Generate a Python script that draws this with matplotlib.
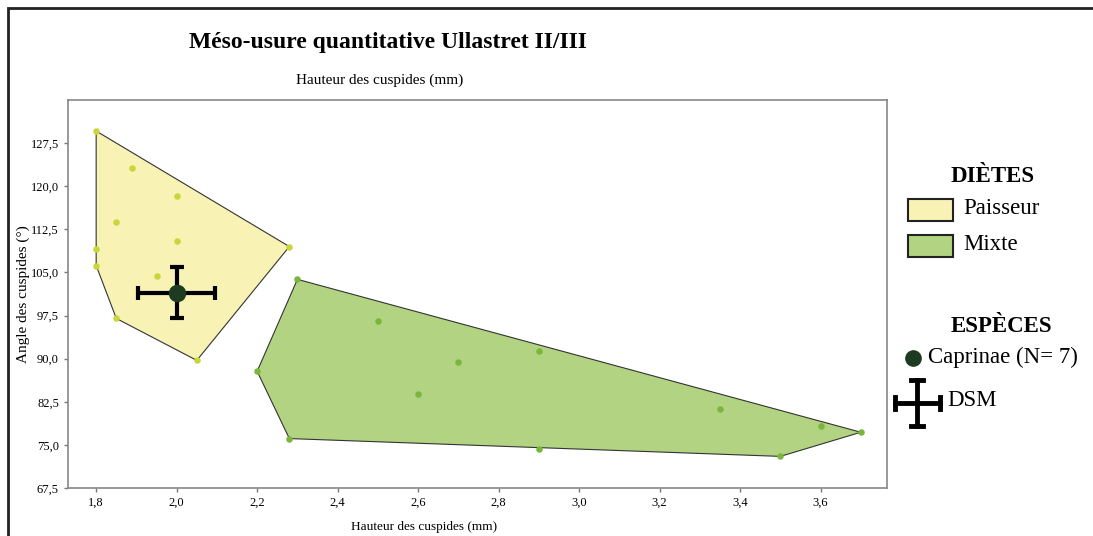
import matplotlib.pyplot as plt
from matplotlib.patches import Polygon, Rectangle
from matplotlib.lines import Line2D

plt.rcParams['font.family'] = ['Liberation Serif', 'DejaVu Serif']

# Paisseur (grazer) points
pais_x = [1.80, 1.89, 2.00, 1.85, 2.00, 1.80, 1.80, 1.95, 1.85, 2.05, 2.28]
pais_y = [129.6, 123.1, 118.3, 113.7, 110.4, 109.0, 106.2, 104.3, 97.0, 89.7, 109.5]
pais_hull_x = [1.80, 2.28, 2.05, 1.85, 1.80, 1.80]
pais_hull_y = [129.6, 109.5, 89.7, 97.0, 106.2, 109.0]

# Mixte points
mix_x = [2.30, 2.50, 2.70, 2.90, 2.60, 2.20, 2.28, 2.90, 3.35, 3.50, 3.60, 3.70]
mix_y = [103.8, 96.5, 89.5, 91.4, 83.8, 87.8, 76.1, 74.2, 81.2, 73.0, 78.2, 77.2]
mix_hull_x = [2.30, 3.70, 3.50, 2.28, 2.20]
mix_hull_y = [103.8, 77.2, 73.0, 76.1, 87.8]

# Caprinae mean and DSM
cap_x, cap_y = 2.00, 101.5
cap_sdx, cap_sdy = 0.095, 4.4

xticks = [1.8, 2.0, 2.2, 2.4, 2.6, 2.8, 3.0, 3.2, 3.4, 3.6]
xlabels = ["1,8", "2,0", "2,2", "2,4", "2,6", "2,8", "3,0", "3,2", "3,4", "3,6"]
yticks = [67.5, 75.0, 82.5, 90.0, 97.5, 105.0, 112.5, 120.0, 127.5]
ylabels = ["67,5", "75,0", "82,5", "90,0", "97,5", "105,0", "112,5", "120,0", "127,5"]

W, H = 1093, 536
fig = plt.figure(figsize=(W / 100, H / 100), dpi=100)
fig.patch.set_facecolor("white")

# outer frame
fig.patches.append(Rectangle((8 / W, -0.05), 1.1, 1 - 8 / H + 0.05, transform=fig.transFigure,
                             fill=False, edgecolor="#222222", lw=2))

ax = fig.add_axes([68 / W, (H - 488) / H, (887 - 68) / W, (488 - 100) / H])
ax.set_xlim(1.73, 3.765)
ax.set_ylim(67.5, 135)

yel_fill = "#f8f2b4"
yel_pt = "#c8d63a"
grn_fill = "#b2d482"
grn_pt = "#79b63c"

ax.add_patch(Polygon(list(zip(pais_hull_x, pais_hull_y)), closed=True,
                     facecolor=yel_fill, edgecolor="#333333", lw=0.8, zorder=1))
ax.add_patch(Polygon(list(zip(mix_hull_x, mix_hull_y)), closed=True,
                     facecolor=grn_fill, edgecolor="#333333", lw=0.8, zorder=1))
ax.scatter(pais_x, pais_y, s=22, color=yel_pt, zorder=2, linewidths=0)
ax.scatter(mix_x, mix_y, s=22, color=grn_pt, zorder=2, linewidths=0)

ax.errorbar(cap_x, cap_y, xerr=cap_sdx, yerr=cap_sdy, fmt="none", ecolor="black",
            elinewidth=3, capsize=5, capthick=3, zorder=3)
ax.scatter([cap_x], [cap_y], s=160, color="#1d3b20", zorder=4, linewidths=0)

ax.set_xticks(xticks)
ax.set_xticklabels(xlabels)
ax.set_yticks(yticks)
ax.set_yticklabels(ylabels)
ax.tick_params(labelsize=9, color="#777777", length=3, width=1)
for sp in ax.spines.values():
    sp.set_color("#888888")
    sp.set_linewidth(1.2)
ax.set_ylabel("Angle des cuspides (°)", fontsize=11)
ax.yaxis.set_label_coords(-0.046, 0.5)

fig.text(388 / W, 1 - 42 / H, "Méso-usure quantitative Ullastret II/III", fontsize=17,
         fontweight="bold", ha="center", va="center")
fig.text(380 / W, 1 - 80 / H, "Hauteur des cuspides (mm)", fontsize=11, ha="center", va="center")
fig.text(424 / W, 1 - 527 / H, "Hauteur des cuspides (mm)", fontsize=9.5, ha="center", va="center")

# legend
fig.text(993 / W, 1 - 176 / H, "DIÈTES", fontsize=16.5, fontweight="bold", ha="center", va="center")
fig.patches.append(Rectangle((908 / W, 1 - 221 / H), 45 / W, 22 / H, transform=fig.transFigure,
                             facecolor=yel_fill, edgecolor="#222222", lw=1.5))
fig.text(963 / W, 1 - 209 / H, "Paisseur", fontsize=16.5, ha="left", va="center")
fig.patches.append(Rectangle((908 / W, 1 - 257 / H), 45 / W, 22 / H, transform=fig.transFigure,
                             facecolor=grn_fill, edgecolor="#222222", lw=1.5))
fig.text(963 / W, 1 - 245 / H, "Mixte", fontsize=16.5, ha="left", va="center")

fig.text(1001 / W, 1 - 327 / H, "ESPÈCES", fontsize=16.5, fontweight="bold", ha="center", va="center")
fig.lines.append(Line2D([913 / W], [1 - 358 / H], transform=fig.transFigure, marker="o",
                        markersize=11, color="#1d3b20", linestyle="none"))
fig.text(928 / W, 1 - 357 / H, "Caprinae (N= 7)", fontsize=16.5, ha="left", va="center")
fig.lines.append(Line2D([895 / W, 940 / W], [1 - 403 / H, 1 - 403 / H], transform=fig.transFigure,
                        color="black", lw=3.5))
fig.lines.append(Line2D([917 / W, 917 / W], [1 - 380 / H, 1 - 426 / H], transform=fig.transFigure,
                        color="black", lw=3.5))
for xx in [895, 940]:
    fig.lines.append(Line2D([xx / W, xx / W], [1 - 397 / H, 1 - 409 / H], transform=fig.transFigure,
                            color="black", lw=3.5))
for yy in [380, 426]:
    fig.lines.append(Line2D([911 / W, 923 / W], [1 - yy / H, 1 - yy / H], transform=fig.transFigure,
                            color="black", lw=3.5))
fig.text(947 / W, 1 - 400 / H, "DSM", fontsize=16.5, ha="left", va="center")

fig.savefig("out.png", dpi=100)
